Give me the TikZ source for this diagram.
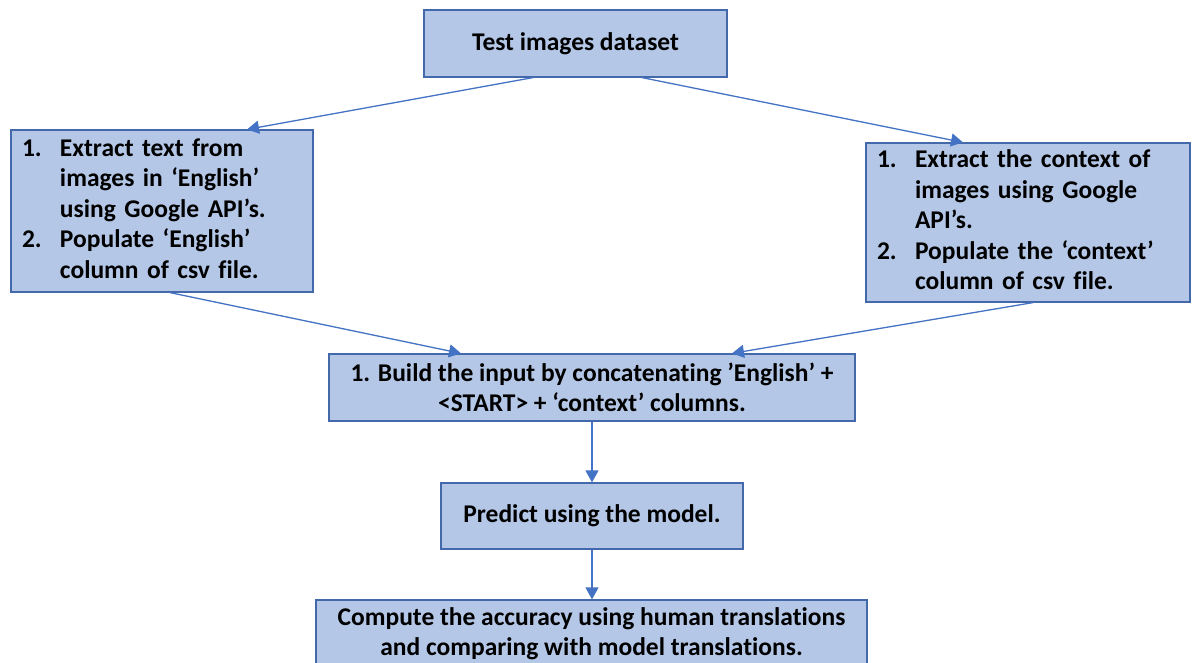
\documentclass[tikz,border=0pt]{standalone}
\usepackage{fontspec}
\setmainfont{Carlito}[Ligatures=NoCommon]
\usetikzlibrary{arrows.meta}
\definecolor{boxfill}{HTML}{B4C7E7}
\definecolor{boxline}{RGB}{68,105,170}
\definecolor{flowblue}{HTML}{4472C4}
\tikzset{
  stepbox/.style={draw=boxline, fill=boxfill, line width=1.2pt, inner ysep=0pt,
    inner xsep=0pt, font=\fontsize{25.5}{30.5}\selectfont\bfseries},
  listbox/.style={stepbox, inner xsep=11pt, align=left},
  flow/.style={draw=flowblue, line width=1.3pt, -{Triangle[length=12pt,width=13pt]}}
}
\newcommand{\numlist}[1]{\begin{tabular}{@{}p{38pt}@{}l@{}}#1\end{tabular}}
\begin{document}
\begin{tikzpicture}[x=1pt,y=-1pt]
  \clip (0,0) rectangle (1192,663);
  \fill[white] (0,0) rectangle (1192,663);

  \node[stepbox, minimum width=303pt, minimum height=67pt] (top) at (575.5,43.5)
    {Test images dataset};

  \node[listbox, text width=280pt, minimum height=162pt] (left) at (162,211)
    {\numlist{1. & Extract text from\\ & images in ‘English’\\ & using Google API’s.\\
              2. & Populate ‘English’\\ & column of csv file.}};

  \node[listbox, text width=302pt, minimum height=159pt] (right) at (1028,222.5)
    {\numlist{1. & Extract the context of\\ & images using Google\\ & API’s.\\
              2. & Populate the ‘context’\\ & column of csv file.}};

  \node[stepbox, minimum width=526pt, minimum height=67pt, align=center] (build) at (592,387.5)
    {1. Build the input by concatenating ’English’ +\\ <START> + ‘context’ columns.};

  \node[stepbox, minimum width=302pt, minimum height=66pt] (predict) at (592,516)
    {Predict using the model.};

  \node[stepbox, minimum width=551pt, minimum height=67pt, align=center] (compute) at (591.5,633.5)
    {Compute the accuracy using human translations\\ and comparing with model translations.};

  \draw[flow] ([xshift=-42.5pt]top.south) -- ([xshift=85pt]left.north);
  \draw[flow] ([xshift=66.5pt]top.south) -- ([xshift=-65pt]right.north);
  \draw[flow] ([xshift=8pt]left.south) -- ([xshift=-131pt]build.north);
  \draw[flow] ([xshift=5pt]right.south) -- ([xshift=140pt]build.north);
  \draw[flow] (build.south) -- (build.south |- predict.north);
  \draw[flow] (predict.south) -- (predict.south |- compute.north);
\end{tikzpicture}
\end{document}
